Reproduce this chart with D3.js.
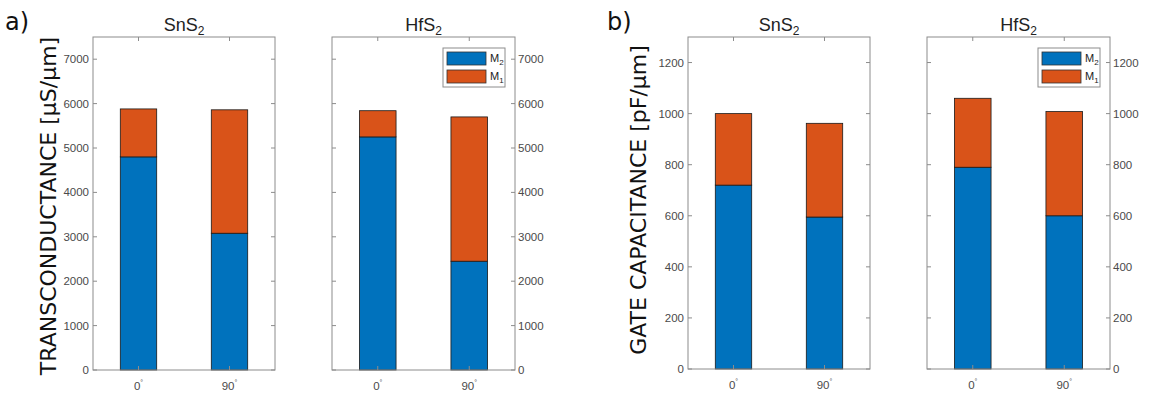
<!DOCTYPE html>
<html>
<head>
<meta charset="utf-8">
<script src="https://cdn.jsdelivr.net/npm/d3@7"></script>
<style>
  body { margin: 0; background: #fff; }
  svg text { font-family: "Liberation Sans", Arial, sans-serif; }
</style>
</head>
<body>
<svg id="chart"></svg>
<script>
var W = 1152, H = 397;
var svg = d3.select("svg#chart").attr("width", W).attr("height", H);

// data
var angles = ["0", "90"];
var materials = ["SnS2", "HfS2"];
// transconductance [uS/um]
var gmSnS2_M2 = [4800, 3080];
var gmSnS2_M1 = [1080, 2780];
var gmHfS2_M2 = [5250, 2450];
var gmHfS2_M1 = [590, 3250];
// gate capacitance [pF/um]
var cgSnS2_M2 = [720, 595];
var cgSnS2_M1 = [280, 367];
var cgHfS2_M2 = [790, 600];
var cgHfS2_M1 = [270, 408];
var gmTicks = [0, 1000, 2000, 3000, 4000, 5000, 6000, 7000];
var cgTicks = [0, 200, 400, 600, 800, 1000, 1200];

var blue = "#0072BD", orange = "#D95319";
var boxCol = "#8c8c8c", txtCol = "#4a4a4a";

function panel(left, right, top, bottom, ymax, ticks, m2, m1, name, rightAxis, legend) {
  var g = svg.append("g");
  var x = d3.scalePoint().domain(angles).range([left, right]).padding(0.5);
  var step = x.step();
  var y = d3.scaleLinear().domain([0, ymax]).range([bottom, top]);
  var bw = step * 0.4;

  // bars
  angles.forEach(function(a, i) {
    g.append("rect")
      .attr("x", x(a) - bw / 2).attr("width", bw)
      .attr("y", y(m2[i])).attr("height", y(0) - y(m2[i]))
      .attr("fill", blue).attr("stroke", "#1a1a1a").attr("stroke-width", 0.8);
    g.append("rect")
      .attr("x", x(a) - bw / 2).attr("width", bw)
      .attr("y", y(m2[i] + m1[i])).attr("height", y(m2[i]) - y(m2[i] + m1[i]))
      .attr("fill", orange).attr("stroke", "#1a1a1a").attr("stroke-width", 0.8);
  });

  // box
  g.append("rect").attr("x", left).attr("y", top)
    .attr("width", right - left).attr("height", bottom - top)
    .attr("fill", "none").attr("stroke", boxCol).attr("stroke-width", 1);

  // inward ticks on all sides
  var tl = 4;
  ticks.forEach(function(t) {
    g.append("line").attr("x1", left).attr("x2", left + tl)
      .attr("y1", y(t)).attr("y2", y(t)).attr("stroke", boxCol);
    g.append("line").attr("x1", right).attr("x2", right - tl)
      .attr("y1", y(t)).attr("y2", y(t)).attr("stroke", boxCol);
  });
  angles.forEach(function(a) {
    g.append("line").attr("x1", x(a)).attr("x2", x(a))
      .attr("y1", bottom).attr("y2", bottom - tl).attr("stroke", boxCol);
    g.append("line").attr("x1", x(a)).attr("x2", x(a))
      .attr("y1", top).attr("y2", top + tl).attr("stroke", boxCol);
    var tx = g.append("text").attr("x", x(a)).attr("y", bottom + 20)
      .attr("text-anchor", "middle").attr("font-size", 11.5).attr("fill", txtCol);
    tx.append("tspan").text(a);
    tx.append("tspan").attr("dy", -5).attr("font-size", 7).text("\u00b0");
  });

  // tick labels
  ticks.forEach(function(t) {
    g.append("text")
      .attr("x", rightAxis ? right + 3 : left - 4)
      .attr("y", y(t) + 4)
      .attr("text-anchor", rightAxis ? "start" : "end")
      .attr("font-size", 11.5).attr("fill", txtCol).text(t);
  });

  // title
  var tt = g.append("text").attr("x", (left + right) / 2).attr("y", 31)
    .attr("text-anchor", "middle").attr("font-size", 18).attr("fill", "#222");
  tt.append("tspan").text(name.slice(0, -1));
  tt.append("tspan").attr("dy", 4).attr("font-size", 12).text(name.slice(-1));

  if (legend) {
    var lw = 62, lx = right - 10 - lw, ly = top + 11;
    g.append("rect").attr("x", lx).attr("y", ly).attr("width", lw).attr("height", 39)
      .attr("fill", "#fff").attr("stroke", boxCol);
    [["M", "2", blue], ["M", "1", orange]].forEach(function(d, i) {
      g.append("rect").attr("x", lx + 4).attr("y", ly + 4 + i * 18)
        .attr("width", 39).attr("height", 13)
        .attr("fill", d[2]).attr("stroke", "#333").attr("stroke-width", 0.8);
      var lt = g.append("text").attr("x", lx + 47).attr("y", ly + 14 + i * 18)
        .attr("font-size", 11).attr("fill", "#222");
      lt.append("tspan").text(d[0]);
      lt.append("tspan").attr("dy", 3).attr("font-size", 8).text(d[1]);
    });
  }
}

panel(93, 275, 37, 370, 7500, gmTicks, gmSnS2_M2, gmSnS2_M1, materials[0], false, false);
panel(332, 515, 37, 370, 7500, gmTicks, gmHfS2_M2, gmHfS2_M1, materials[1], true, true);
panel(688, 870, 37, 369, 1300, cgTicks, cgSnS2_M2, cgSnS2_M1, materials[0], false, false);
panel(927, 1110, 37, 369, 1300, cgTicks, cgHfS2_M2, cgHfS2_M1, materials[1], true, true);

// y labels
svg.append("text").attr("transform", "translate(56,206) rotate(-90)")
  .attr("text-anchor", "middle").attr("font-size", 22)
  .style("font-family", "DejaVu Sans").attr("fill", "#111")
  .text("TRANSCONDUCTANCE [\u00b5S/\u00b5m]");
svg.append("text").attr("transform", "translate(646,200) rotate(-90)")
  .attr("text-anchor", "middle").attr("font-size", 22)
  .style("font-family", "DejaVu Sans").attr("fill", "#111")
  .text("GATE CAPACITANCE [pF/\u00b5m]");

// panel letters
svg.append("text").attr("x", 5).attr("y", 30).attr("font-size", 24)
  .style("font-family", "DejaVu Sans").attr("fill", "#111").text("a)");
svg.append("text").attr("x", 607).attr("y", 30).attr("font-size", 24)
  .style("font-family", "DejaVu Sans").attr("fill", "#111").text("b)");
</script>
</body>
</html>
